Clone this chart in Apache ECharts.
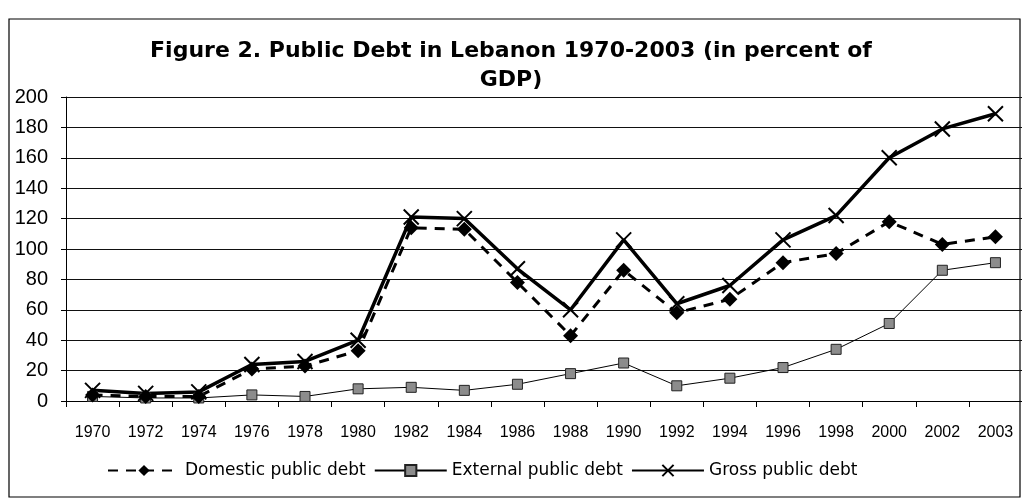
<!DOCTYPE html>
<html>
<head>
<meta charset="utf-8">
<title>Public Debt in Lebanon</title>
<script src="https://cdn.jsdelivr.net/npm/echarts@6/dist/echarts.min.js"></script>
<style>
    html, body { margin: 0; padding: 0; background: #fff; }
    #chart { width: 1022px; height: 503px; }
</style>
</head>
<body>
<div id="chart"></div>
<script>
    // x 轴年份
    const years = ['1970','1972','1974','1976','1978','1980','1982','1984','1986','1988',
                   '1990','1992','1994','1996','1998','2000','2002','2003']
    // 各序列（占 GDP 百分比）
    const domestic = [4, 3, 3, 21, 23, 33, 114, 113, 78, 43, 86, 58, 67, 91, 97, 118, 103, 108]
    const external = [3, 2, 2, 4, 3, 8, 9, 7, 11, 18, 25, 10, 15, 22, 34, 51, 86, 91]
    const gross    = [7, 5, 6, 24, 26, 40, 121, 120, 87, 60, 106, 64, 76, 106, 122, 160, 179, 189]

    const font = 'Arial, "Liberation Sans", Helvetica, sans-serif'
    const wideFont = '"DejaVu Sans", Verdana, sans-serif'   // 扫描件里标题、图例偏宽
    const xMark = 'path://M0,0L10,10M10,0L0,10'

    const chart = echarts.init(document.getElementById('chart'))

    chart.setOption({
        animation: false,
        textStyle: { fontFamily: font, color: '#000' },
        title: {
            text: 'Figure 2. Public Debt in Lebanon 1970-2003 (in percent of\nGDP)',
            left: 'center',
            top: 37,
            padding: [0, 0, 0, 8],
            textStyle: { fontSize: 22, fontWeight: 'bold', lineHeight: 29, color: '#000', fontFamily: wideFont }
        },
        // 外框
        graphic: [{
            type: 'rect',
            shape: { x: 9, y: 19, width: 1011, height: 478 },
            style: { fill: 'none', stroke: '#000', lineWidth: 1.2 },
            silent: true
        }],
        legend: {
            data: ['Domestic public debt', 'External public debt', 'Gross public debt'],
            left: 102,
            top: 457,
            itemWidth: 72,
            itemHeight: 14,
            itemGap: 8,
            textStyle: { fontSize: 17, color: '#000', fontFamily: wideFont }
        },
        grid: { left: 66, right: 0, top: 97, bottom: 102 },
        xAxis: {
            type: 'category',
            data: years,
            boundaryGap: true,
            axisLine: { lineStyle: { color: '#000', width: 1 } },
            axisTick: { show: true, length: 6, lineStyle: { color: '#000' } },
            axisLabel: { interval: 0, fontSize: 16, color: '#000', margin: 24 }
        },
        yAxis: {
            type: 'value',
            min: 0,
            max: 200,
            interval: 20,
            axisLine: { show: true, lineStyle: { color: '#000', width: 1 } },
            axisTick: { show: true, length: 5, lineStyle: { color: '#000' } },
            axisLabel: { fontSize: 20, color: '#000', margin: 18 },
            splitLine: { show: true, lineStyle: { color: '#111', width: 1 } }
        },
        series: [
            {
                name: 'External public debt',
                type: 'line',
                data: external,
                symbol: 'rect',
                symbolSize: 10,
                lineStyle: { color: '#000', width: 1 },
                itemStyle: { color: '#8c8c8c', borderColor: '#222', borderWidth: 1 }
            },
            {
                name: 'Domestic public debt',
                type: 'line',
                data: domestic,
                symbol: 'diamond',
                symbolSize: 15,
                lineStyle: { color: '#000', width: 3, type: [10, 8] },
                itemStyle: { color: '#000' }
            },
            {
                name: 'Gross public debt',
                type: 'line',
                data: gross,
                symbol: xMark,
                symbolSize: 15,
                lineStyle: { color: '#000', width: 3.5 },
                itemStyle: { color: '#000', borderColor: '#000', borderWidth: 2 }
            }
        ]
    })
</script>
</body>
</html>
